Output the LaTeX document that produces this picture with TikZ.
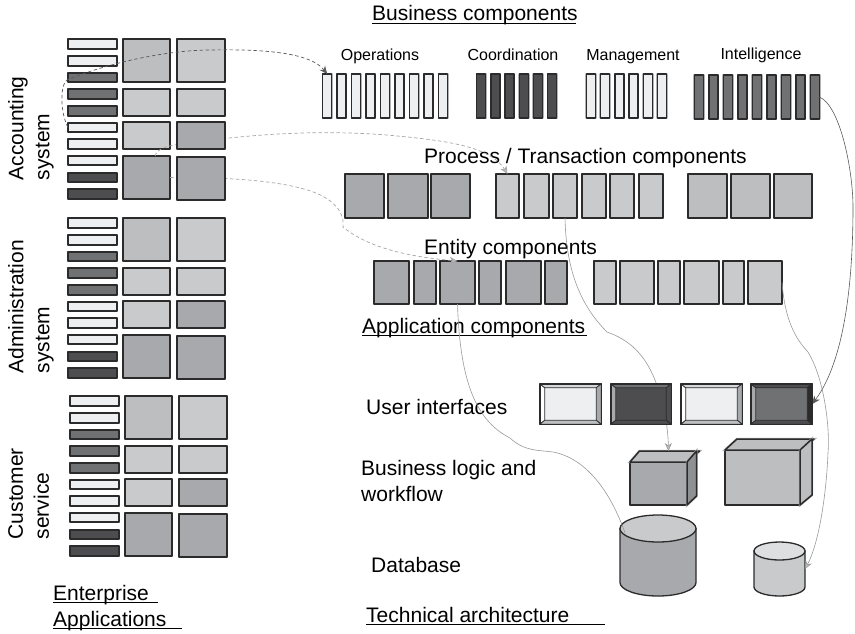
\documentclass[tikz,border=0pt]{standalone}
\usepackage{fontspec}
\setmainfont{Liberation Sans}
\usetikzlibrary{calc,arrows.meta}

\definecolor{edgeInk}{HTML}{2B2B2B}
\definecolor{shadeA}{HTML}{EEEFF0}
\definecolor{shadeB}{HTML}{C8CACB}
\definecolor{shadeC}{HTML}{BCBEC0}
\definecolor{shadeD}{HTML}{A7A9AC}
\definecolor{shadeE}{HTML}{6F7173}
\definecolor{shadeF}{HTML}{4D4D4F}

\pgfdeclarelayer{front}
\pgfsetlayers{main,front}

% component box given by its outer corners: name, left, top, right, bottom, fill
\newcommand{\compbox}[6]{\node[comp,fill=#6,minimum width={(#4)-(#2)-2},minimum height={(#5)-(#3)-2}] (#1) at ({((#2)+(#4))/2},{((#3)+(#5))/2}) {};}
% drum drawn on a plain node: name, x radius, y radius, lid fill, body fill
\newcommand{\drum}[5]{
\draw[drum line,fill=#5]($(#1.north west)+(0,#3)$)--($(#1.south west)+(0,-#3)$) arc[start angle=180,end angle=360,x radius=#2pt,y radius=#3pt]--($(#1.north east)+(0,#3)$)--cycle;
\draw[drum line,fill=#4]($(#1.north)+(0,#3)$) ellipse[x radius=#2pt,y radius=#3pt];
}
\newcommand{\ultext}[2]{\rlap{\rule[-3.2pt]{#1}{0.9pt}}#2}

\begin{document}
\begin{tikzpicture}[x=1pt,y=-1pt,font=\fontsize{21}{26}\selectfont]
\tikzset{
% boxes, bars and faces
comp/.style={rectangle,preaction={draw=black!30,line width=2.4pt},draw=edgeInk,line width=1.5pt,line join=round,inner sep=0,outer sep=0},
uiface/.style n args={5}{comp,fill=#5,path picture={
\draw[edgeInk,line width=.7pt,fill=#1](path picture bounding box.north west)--($(path picture bounding box.north west)+(5,4)$)--($(path picture bounding box.south west)+(5,-4)$)--(path picture bounding box.south west)--cycle;
\draw[edgeInk,line width=.7pt,fill=#2](path picture bounding box.north west)--($(path picture bounding box.north west)+(5,4)$)--($(path picture bounding box.north east)+(-5,4)$)--(path picture bounding box.north east)--cycle;
\draw[edgeInk,line width=.7pt,fill=#3](path picture bounding box.north east)--($(path picture bounding box.north east)+(-5,4)$)--($(path picture bounding box.south east)+(-5,-4)$)--(path picture bounding box.south east)--cycle;
\draw[edgeInk,line width=.7pt,fill=#4](path picture bounding box.south west)--($(path picture bounding box.south west)+(5,-4)$)--($(path picture bounding box.south east)+(-5,-4)$)--(path picture bounding box.south east)--cycle;
}},
drum line/.style={draw=edgeInk,line width=1.3pt},
drum box/.style={rectangle,inner sep=0,outer sep=0},
% text
plain label/.style={anchor=base west,inner sep=0},
small label/.style={anchor=base,inner sep=0,font=\fontsize{16}{18}\selectfont},
side label/.style={rotate=90,anchor=north west,align=left,inner sep=0},
% connectors
dark dash/.style={draw=black!65,line width=.7pt,dash pattern=on 3.5pt off 2.5pt,-{Stealth[length=8pt,width=7pt]}},
pale dash/.style={draw=black!35,line width=.7pt,dash pattern=on 3.5pt off 2.5pt,-{Stealth[length=8pt,width=7pt,fill=shadeC]}},
pale link/.style={draw=black!40,line width=.6pt},
dark link/.style={draw=black!65,line width=.6pt}
}

\useasboundingbox (0,0) rectangle (855,633);

% Enterprise applications: the same grid three times
\foreach \sys/\dx/\dy in {acc/0/0,adm/0/179,cus/2/357}{
\begin{scope}[shift={(\dx,\dy)},name prefix=\sys-]
\foreach \n/\t/\b/\col in {1/38/50/shadeA,2/55/67/shadeA,3/72/83/shadeE,4/88/100/shadeE,5/105/117/shadeE,6/122/133/shadeA,7/138/150/shadeA,8/155/166/shadeA,9/172/183/shadeF,10/188/200/shadeF}{
\compbox{bar\n}{67}{\t}{118}{\b}{\col}
}
\compbox{sq1a}{122}{38}{171}{83}{shadeC}
\compbox{sq2a}{122}{88}{171}{117}{shadeB}
\compbox{sq3a}{122}{121}{171}{150}{shadeB}
\compbox{sq4a}{122}{155}{171}{200}{shadeD}
\begin{pgfonlayer}{front}
\compbox{sq1b}{176}{38}{226}{83}{shadeB}
\compbox{sq2b}{176}{88}{226}{117}{shadeB}
\compbox{sq3b}{176}{121}{226}{150}{shadeD}
\compbox{sq4b}{176}{156}{226}{201}{shadeD}
\end{pgfonlayer}
\end{scope}
}

% Business components
\foreach \i in {0,...,8}{\compbox{op\i}{321.7+14.5*\i}{73}{332.7+14.5*\i}{119}{shadeA}}
\foreach \i in {0,...,5}{\compbox{co\i}{475.7+14.2*\i}{73}{486.7+14.2*\i}{119}{shadeF}}
\foreach \i in {0,...,5}{\compbox{ma\i}{585.3+14.27*\i}{73}{596.3+14.27*\i}{119}{shadeA}}
\foreach \i in {0,...,8}{\compbox{in\i}{693.3+14.5*\i}{74}{704.3+14.5*\i}{120}{shadeE}}

% Process / transaction components
\foreach \n/\l/\r in {1/344/385,2/387/429,3/430/471}{\compbox{pa\n}{\l}{173}{\r}{219}{shadeD}}
\foreach \n/\l/\r in {1/495/520,2/523/550,3/552/578,4/581/607,5/609/635,6/638/664}{\compbox{pb\n}{\l}{173}{\r}{219}{shadeB}}
\foreach \n/\l/\r in {1/687/728,2/730/771,3/773/813}{\compbox{pc\n}{\l}{173}{\r}{219}{shadeC}}

% Entity components
\foreach \n/\l/\r in {1/373/410,2/413/437,3/439/476,4/478/502,5/505/542,6/544/568}{\compbox{ea\n}{\l}{260}{\r}{305}{shadeD}}
\foreach \n/\l/\r in {1/593/617,2/619/655,3/657/681,4/683/720,5/722/745,6/747/783}{\compbox{eb\n}{\l}{260}{\r}{305}{shadeB}}

% User interfaces
\begin{pgfonlayer}{front}
\node[uiface={white}{shadeA!90!black}{shadeD}{shadeC}{shadeA},minimum width=61.5,minimum height=40.5] (ui1) at (570.5,404) {};
\node[uiface={shadeD}{shadeE}{shadeF}{shadeF}{shadeF},minimum width=60.5,minimum height=40.5] (ui2) at (641,404) {};
\node[uiface={white}{shadeA!90!black}{shadeD}{shadeC}{shadeA},minimum width=61.5,minimum height=40.5] (ui3) at (711.5,404) {};
\node[uiface={shadeD}{shadeF}{edgeInk}{shadeF}{shadeE},minimum width=61.5,minimum height=40.5] (ui4) at (781.5,404) {};
\end{pgfonlayer}

% Business logic boxes
\compbox{logic1}{629}{461}{688}{506}{shadeD}
\draw[comp,fill=shadeC](logic1.north west)--++(9.5,-11)--++(60,0)--(logic1.north east)--cycle;
\draw[comp,fill=shadeD!85!black](logic1.north east)--++(9.5,-11)--++(0,45)--(logic1.south east)--cycle;
\coordinate (logic1 top) at ($(logic1.north)+(10,-11)$);
\compbox{logic2}{724}{449}{801}{506}{shadeC}
\draw[comp,fill=shadeC](logic2.north west)--++(12,-11)--++(77,0)--(logic2.north east)--cycle;
\draw[comp,fill=shadeC](logic2.north east)--++(12,-11)--++(0,56)--(logic2.south east)--cycle;

% Databases
\node[drum box,minimum width=76,minimum height=81] (db1) at (658,555.5) {};
\drum{db1}{38}{13.5}{shadeB}{shadeD}
\coordinate (db1 rim) at ($(db1.north west)+(5,18)$);
\node[drum box,minimum width=51,minimum height=54] (db2) at (779.5,569) {};
\drum{db2}{25.5}{9}{shadeB!60!white}{shadeB}

% Texts
\node[plain label] (title business) at (372,20.5) {\ultext{204pt}{Business components}};
\node[small label] (lab op) at (380,60) {Operations};
\node[small label] (lab co) at (513,60) {Coordination};
\node[small label] (lab ma) at (633,60) {Management};
\node[small label] (lab in) at (761,59) {Intelligence};
\node[plain label] (title process) at (424,163) {Process / Transaction components};
\node[plain label] (title entity) at (424,254) {Entity components};
\node[plain label] (title app) at (362,333) {\ultext{225pt}{Application components}};
\node[plain label] (lab ui) at (366,414) {User interfaces};
\node[plain label,align=left,anchor=north west] (lab logic) at (361,460) {Business logic and\\workflow};
\node[plain label] (lab db) at (371,572) {Database};
\node[plain label] (title tech) at (366,622) {\ultext{239pt}{Technical architecture}};
\node[plain label] (title ent) at (53,600) {\ultext{105pt}{Enterprise}};
\node[plain label] (title appl) at (53,626) {\ultext{129pt}{Applications}};
\node[side label] (sys acc) at (8,180.5) {Accounting\\system};
\node[side label] (sys adm) at (8,373.5) {Administration\\system};
\node[side label] (sys cus) at (8,539.5) {Customer\\service};

% Links, the boxes on the front layer hide them
\draw[pale dash](acc-sq4a.68)..controls (156,150) and (165,146)..(180,144)..controls (260,133) and (320,130)..(387,135)..controls (440,140) and (490,145)..(pb1.north);
\draw[pale dash](acc-sq4a.east)..controls (220,177) and (270,180)..(300,188)..controls (330,195) and (345,210)..(343,227)..controls (365,245) and (400,256)..(ea3.north);
\draw[pale link,-{Stealth[length=8pt,width=7pt,fill=shadeC]}](pb3.south)..controls (566,260) and (575,300)..(607,332)..controls (630,340) and (645,355)..(655,380)..controls (665,405) and (668,430)..(logic1 top);
\draw[pale link](ea3.south)..controls (460,380) and (475,420)..(510,438)..controls (525,452) and (540,450)..(553,452)..controls (585,458) and (610,490)..(db1 rim);
\draw[dark link,-{Stealth[length=8pt,width=7pt]}](in8.east)..controls (840,105) and (853,170)..(853,207)..controls (853,280) and (845,360)..(ui4.east);
\draw[pale link,-{Stealth[length=8pt,width=7pt,fill=shadeC]}](eb6.east)..controls (785,320) and (795,338)..(808,352)..controls (825,380) and (830,430)..(828,453)..controls (826,500) and (818,545)..(db2.east);
\begin{pgfonlayer}{front}
\draw[dark dash](acc-bar6.west)..controls (60,112) and (60,85)..(67,80)..controls (110,62) and (170,50)..(210,50)..controls (260,49) and (310,52)..(op0.north);
\end{pgfonlayer}
\end{tikzpicture}
\end{document}
